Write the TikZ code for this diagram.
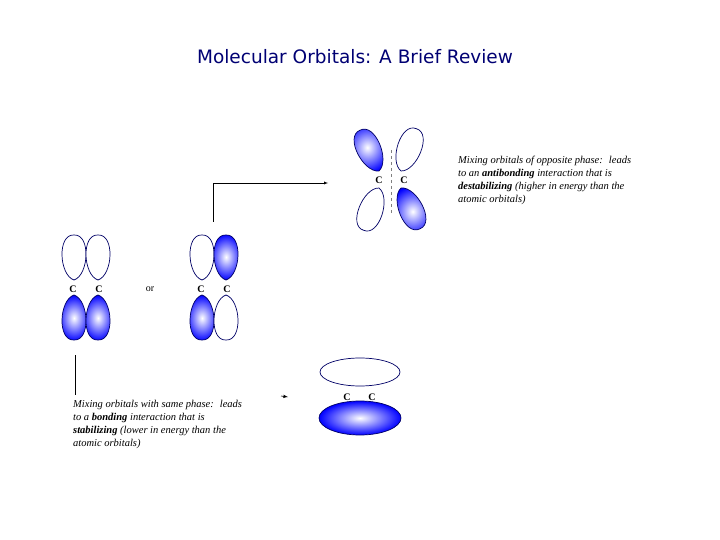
\documentclass[tikz,border=0pt]{standalone}
\usepackage{fontspec}
\setmainfont{Liberation Serif}
\newfontfamily\titlefont{DejaVu Sans}
\begin{document}
\begin{tikzpicture}[x=1pt,y=-1pt,
  outl/.style={draw=blue!40!black,line width=0.7pt},
  fl/.style={outl,inner color=white,outer color=blue,shading=radial},
  op/.style={outl,fill=white},
  lbl/.style={font=\fontsize{10}{10}\selectfont\bfseries},
  desc/.style={font=\fontsize{10.5}{13}\selectfont\itshape,align=left,anchor=north west,inner sep=0pt},
  pics/lobe/.style={code={
    \path[pic actions] (0,0) .. controls (-15,-5) and (-17,-46) .. (0,-45)
      .. controls (17,-46) and (15,-5) .. (0,0) -- cycle;}}]
\useasboundingbox (0,0) rectangle (720,540);
\node[font=\titlefont\fontsize{18.5}{18.5}\selectfont,text=blue!45!black] (title) at (355,57) {Molecular Orbitals: A Brief Review};
% left pair
\pic[op] at (74,280) {lobe};
\pic[op] at (98,280) {lobe};
\pic[fl,rotate=180] at (74,295) {lobe};
\pic[fl,rotate=180] at (98,295) {lobe};
\node[lbl] (c1) at (73,289) {C};
\node[lbl] (c2) at (99,289) {C};
\node[font=\fontsize{10}{10}\selectfont] (or) at (150,289) {or};
% middle pair
\pic[op] at (202,280) {lobe};
\pic[fl] at (226,280) {lobe};
\pic[fl,rotate=180] at (202,295) {lobe};
\pic[op,rotate=180] at (226,295) {lobe};
\node[lbl] (c3) at (201,289) {C};
\node[lbl] (c4) at (227,289) {C};
% antibonding
\pic[fl,rotate=25] at (379,171) {lobe};
\pic[op,rotate=-20] at (401,171) {lobe};
\pic[op,rotate=160] at (379,188) {lobe};
\pic[fl,rotate=205] at (401,188) {lobe};
\draw[gray,dashed] (391,150) -- (391,215);
\node[lbl] (c5) at (379,180) {C};
\node[lbl] (c6) at (404,180) {C};
% bonding
\draw[op] (360,372) ellipse (40 and 14);
\shade[fl] (360,418) ellipse (41 and 17);
\node[lbl] (c7) at (347,397) {C};
\node[lbl] (c8) at (372,397) {C};
% arrows
\coordinate (a0) at (213,222);
\coordinate (a1) at (328,183);
\draw[-latex] (a0) |- (a1);
\coordinate (b0) at (75,355);
\coordinate (b1) at (75,395);
\draw (b0) -- (b1);
\coordinate (d0) at (281,396);
\coordinate (d1) at (288,397);
\draw[-latex,line width=0.6pt] (d0) -- (d1);
% texts
\node[desc] (t1) at (458,156) {Mixing orbitals of opposite phase:~ leads\\to an \textbf{antibonding} interaction that is\\\textbf{destabilizing} (higher in energy than the\\atomic orbitals)};
\node[desc] (t2) at (73,400) {Mixing orbitals with same phase:~ leads\\to a \textbf{bonding} interaction that is\\\textbf{stabilizing} (lower in energy than the\\atomic orbitals)};
\end{tikzpicture}
\end{document}
